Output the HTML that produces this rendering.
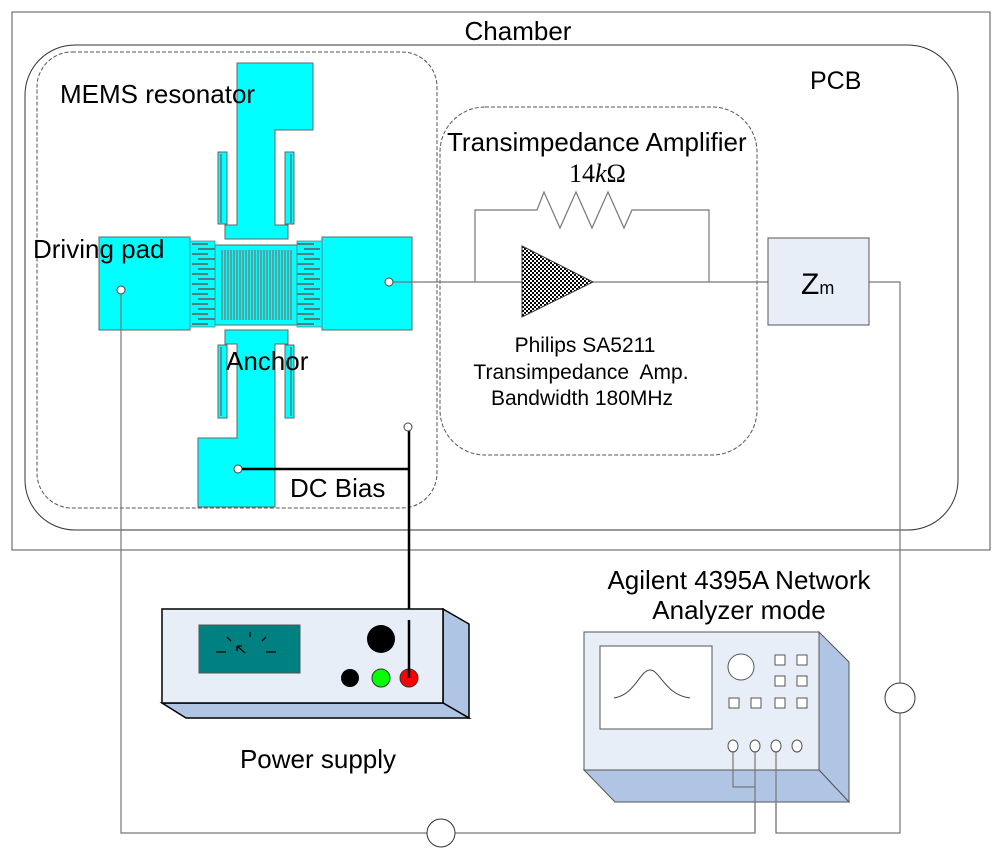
<!DOCTYPE html>
<html><head><meta charset="utf-8"><style>html,body{margin:0;padding:0;background:#fff}svg{display:block}</style></head><body>
<svg width="1000" height="862" viewBox="0 0 1000 862" xmlns="http://www.w3.org/2000/svg" font-family="Liberation Sans, sans-serif">
<defs>
<pattern id="chk" width="4" height="4" patternUnits="userSpaceOnUse"><rect width="4" height="4" fill="#fff"/><rect width="2" height="2" fill="#000"/><rect x="2" y="2" width="2" height="2" fill="#000"/></pattern>
</defs>
<rect x="12" y="12" width="978" height="538" fill="none" stroke="#555" stroke-width="1"/>
<rect x="25" y="45" width="933" height="485" rx="50" fill="none" stroke="#333" stroke-width="1"/>
<rect x="37" y="52" width="400" height="456" rx="35" fill="none" stroke="#555" stroke-dasharray="4,2"/>
<rect x="440" y="107" width="317" height="348" rx="45" fill="none" stroke="#555" stroke-dasharray="4,2"/>
<text x="518" y="40" font-size="26" text-anchor="middle">Chamber</text>
<text x="810" y="89" font-size="25">PCB</text>
<!-- MEMS -->
<g fill="#00ffff" stroke="#666" stroke-width="1">
<path d="M237,63 H313 V130 H275 V225 H288 V239 H225 V225 H237 Z"/>
<path d="M237,507 H198 V438 H237 V344 H225 V330 H288 V344 H275 V507 Z"/>
<rect x="218" y="152" width="9" height="72"/><rect x="285" y="152" width="9" height="72"/>
<rect x="218" y="345" width="9" height="73"/><rect x="285" y="345" width="9" height="73"/>
<rect x="99" y="237" width="91" height="93"/>
<rect x="322" y="237" width="90" height="93"/>
<rect x="215" y="245" width="82" height="80"/>
</g>
<g stroke="#4a8080" stroke-width="1.5"><path d="M221,154 V223 M291,154 V223 M221,347 V416 M291,347 V416"/></g>
<g stroke="#777" stroke-width="1.3">
<path d="M222,250 V320 M225,250 V320 M228,250 V320 M231,250 V320 M234,250 V320 M237,250 V320 M240,250 V320 M243,250 V320 M246,250 V320 M249,250 V320 M252,250 V320 M255,250 V320 M258,250 V320 M261,250 V320 M264,250 V320 M267,250 V320 M270,250 V320 M273,250 V320 M276,250 V320 M279,250 V320 M282,250 V320 M285,250 V320 M288,250 V320 M291,250 V320"/>
</g>
<g fill="#00ffff" stroke="#5a8a8a" stroke-width="0.8">
<rect x="190" y="241" width="25" height="86"/><rect x="297" y="241" width="25" height="86"/>
</g>
<g stroke="#4a8080" stroke-width="2">
<path d="M192,244 H208 M198,249 H215 M192,254 H208 M198,259 H215 M192,264 H208 M198,269 H215 M192,274 H208 M198,279 H215 M192,284 H208 M198,289 H215 M192,294 H208 M198,299 H215 M192,304 H208 M198,309 H215 M192,314 H208 M198,319 H215 M192,324 H208"/>
<path d="M297,244 H314 M304,249 H320 M297,254 H314 M304,259 H320 M297,264 H314 M304,269 H320 M297,274 H314 M304,279 H320 M297,284 H314 M304,289 H320 M297,294 H314 M304,299 H320 M297,304 H314 M304,309 H320 M297,314 H314 M304,319 H320 M297,324 H314"/>
</g>
<text x="60" y="103" font-size="26">MEMS resonator</text>
<text x="33" y="258" font-size="26">Driving pad</text>
<text x="226" y="370" font-size="26">Anchor</text>
<text x="290" y="497" font-size="26">DC Bias</text>
<!-- wires -->
<g fill="none" stroke="#777" stroke-width="1.2">
<path d="M121,290 V833 H427 M455,833 H755 V745 M733,745 V787 H755"/>
<path d="M776,745 V833 H900 V713 M900,683 V282 H869"/>
<path d="M389,282 H768"/>
<path d="M475,282 V210 H537 L544,192 L560,228 L576,192 L592,228 L608,192 L624,228 L632,210 H709 V282"/>
</g>
<circle cx="441" cy="833" r="14" fill="none" stroke="#333"/>
<circle cx="900" cy="698" r="15" fill="none" stroke="#333"/>
<path d="M238,469 H409 M409,427 V678" stroke="#000" stroke-width="2.5" fill="none"/>
<g fill="#fff" stroke="#444"><circle cx="121" cy="290" r="4"/><circle cx="389" cy="282" r="4"/><circle cx="238" cy="469" r="4"/><circle cx="408" cy="427" r="4"/></g>
<!-- TIA -->
<text x="447" y="151" font-size="26">Transimpedance Amplifier</text>
<text x="569" y="182" font-size="26" font-family="Liberation Serif, serif">14<tspan font-style="italic">k</tspan>Ω</text>
<path d="M522,246 L593,282 L522,317 Z" fill="url(#chk)" stroke="#333"/>
<g font-size="21" text-anchor="middle"><text x="585" y="352">Philips SA5211</text><text x="581" y="379">Transimpedance&#160; Amp.</text><text x="582" y="405">Bandwidth 180MHz</text></g>
<rect x="768" y="238" width="101" height="87" fill="#e8eef8" stroke="#555"/>
<text x="801" y="294" font-size="30">Z<tspan font-size="18">m</tspan></text>
<!-- Power supply -->
<g stroke="#000" stroke-width="1.5">
<path d="M443,609 L469,624 V718 L443,703 Z" fill="#b0c4e4"/>
<path d="M162,703 H443 L469,718 H186 Z" fill="#b0c4e4"/>
<rect x="162" y="609" width="281" height="94" fill="#e8eef8"/>
</g>
<rect x="199" y="625" width="101" height="48" fill="#008080" stroke="#555"/>
<path d="M216,652 H226 M266,652 H276 M227,637 L231,641 M266,637 L262,641 M250,632 V637 M245,653 L237,646 M237,646 H242 M237,646 V651" stroke="#000" stroke-width="1.3" fill="none"/>
<circle cx="381" cy="639" r="14" fill="#000"/>
<circle cx="350" cy="678" r="9" fill="#000"/>
<circle cx="381" cy="678" r="9" fill="#00ff00" stroke="#333"/>
<circle cx="409" cy="678" r="9" fill="#ff0000" stroke="#333"/>
<path d="M409,620 V678" stroke="#000" stroke-width="2.5"/>
<text x="318" y="768" font-size="26" text-anchor="middle">Power supply</text>
<!-- Network analyzer -->
<g stroke="#555" stroke-width="1">
<path d="M819,632 L849,662 V802 L819,770 Z" fill="#b0c4e4"/>
<path d="M584,770 H819 L849,802 H615 Z" fill="#b0c4e4"/>
<rect x="584" y="632" width="235" height="138" fill="#e8eef8"/>
<rect x="600" y="646" width="112" height="83" fill="#fff"/>
<circle cx="741" cy="667" r="13" fill="#fff"/>
<g fill="#fff"><rect x="775" y="655" width="10" height="10"/><rect x="797" y="655" width="10" height="10"/><rect x="775" y="676" width="10" height="10"/><rect x="797" y="676" width="10" height="10"/><rect x="729" y="698" width="10" height="10"/><rect x="751" y="698" width="10" height="10"/><rect x="775" y="698" width="10" height="10"/><rect x="797" y="698" width="10" height="10"/></g>
<g fill="#fff"><ellipse cx="733" cy="746" rx="5" ry="6"/><ellipse cx="755" cy="746" rx="5" ry="6"/><ellipse cx="776" cy="746" rx="5" ry="6"/><ellipse cx="797" cy="746" rx="5" ry="6"/></g>
</g>
<path d="M614,698 C635,695 640,670 650,670 C660,670 665,695 690,698" fill="none" stroke="#444"/>
<path d="M733,751 V787 H755 M755,751 V833 M776,751 V833" fill="none" stroke="#777" stroke-width="1.2"/>
<text x="739" y="589" font-size="26" text-anchor="middle">Agilent 4395A Network</text>
<text x="739" y="619" font-size="26" text-anchor="middle">Analyzer mode</text>
</svg>
</body></html>
